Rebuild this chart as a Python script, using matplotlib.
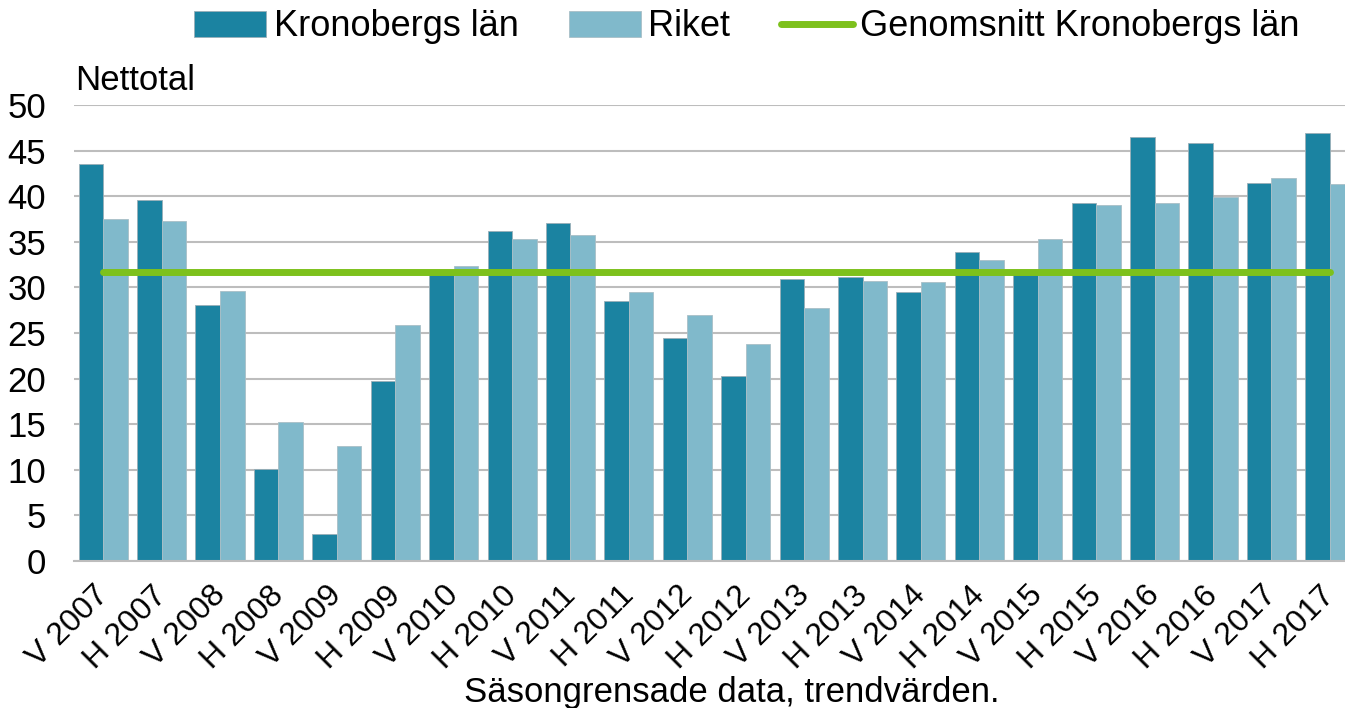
import numpy as np
import matplotlib
matplotlib.use('Agg')
import matplotlib.pyplot as plt
from matplotlib.transforms import ScaledTranslation

plt.rcParams['font.family'] = ['Liberation Sans', 'DejaVu Sans']

# half-years (V = vår, H = höst)
periods = ['V 2007', 'H 2007', 'V 2008', 'H 2008', 'V 2009', 'H 2009',
           'V 2010', 'H 2010', 'V 2011', 'H 2011', 'V 2012', 'H 2012',
           'V 2013', 'H 2013', 'V 2014', 'H 2014', 'V 2015', 'H 2015',
           'V 2016', 'H 2016', 'V 2017', 'H 2017']
kronoberg = [43.5, 39.6, 28.1, 10.1, 3.0, 19.7, 31.6, 36.2, 37.1, 28.5, 24.4,
             20.3, 30.9, 31.1, 29.5, 33.9, 31.8, 39.3, 46.5, 45.8, 41.4, 46.9]
riket = [37.5, 37.3, 29.6, 15.2, 12.6, 25.9, 32.3, 35.3, 35.7, 29.5, 27.0,
         23.8, 27.7, 30.7, 30.6, 33.0, 35.3, 39.0, 39.2, 39.9, 42.0, 41.3]
snitt_kronoberg = 31.7

c_dark = '#1B83A1'
c_light = '#80B9CB'
c_green = '#7DC11C'

fig = plt.figure(figsize=(13.45, 7.08), dpi=100)
# axes runs a bit past the right edge, like in the original crop
ax = fig.add_axes([74/1345, 1 - 561/708, 1285/1345, 456/708])

x = np.arange(len(periods))
w = 0.42
b1 = ax.bar(x - w/2, kronoberg, w, color=c_dark, edgecolor='#9AAFB8', linewidth=0.6,
            label='Kronobergs län', zorder=2)
b2 = ax.bar(x + w/2, riket, w, color=c_light, edgecolor='#A9BFC7', linewidth=0.6,
            label='Riket', zorder=2)
l1, = ax.plot([x[0], x[-1]], [snitt_kronoberg, snitt_kronoberg], color=c_green, lw=5,
              solid_capstyle='round', label='Genomsnitt Kronobergs län', zorder=3)

ax.set_xlim(-0.5, len(periods) - 0.5)
ax.set_ylim(0, 50)
ax.set_yticks(range(0, 51, 5))
ax.yaxis.grid(True, color='#BDBDBD', lw=1.5, zorder=0)
ax.set_axisbelow(True)
for s in ['left', 'right', 'top']:
    ax.spines[s].set_visible(False)
ax.spines['bottom'].set_color('#BDBDBD')
ax.spines['bottom'].set_linewidth(1.5)

ax.tick_params(axis='y', length=0, pad=20, labelsize=25)
ax.tick_params(axis='x', length=0, pad=14, labelsize=23)
ax.set_xticks(x)
ax.set_xticklabels(periods, rotation=45, ha='right', va='top', rotation_mode='anchor')
# nudge the slanted labels left so they end under the group centre
shift = ScaledTranslation(-10/100, 0, fig.dpi_scale_trans)
for lab in ax.get_xticklabels():
    lab.set_transform(lab.get_transform() + shift)

ax.set_xlabel('Säsongrensade data, trendvärden.', fontsize=25)
ax.xaxis.set_label_coords((732 - 74) / 1285, -0.252)

fig.text(75/1345, 1 - 80/708, 'Nettotal', fontsize=25, va='center', ha='left')

fig.legend([b1, b2, l1], ['Kronobergs län', 'Riket', 'Genomsnitt Kronobergs län'],
           loc='center', bbox_to_anchor=(747/1345, 1 - 27/708), ncol=3,
           frameon=False, fontsize=26, handlelength=2.0, handleheight=0.7,
           handletextpad=0.2, columnspacing=1.4, borderpad=0)

fig.savefig('out.png', dpi=100)
